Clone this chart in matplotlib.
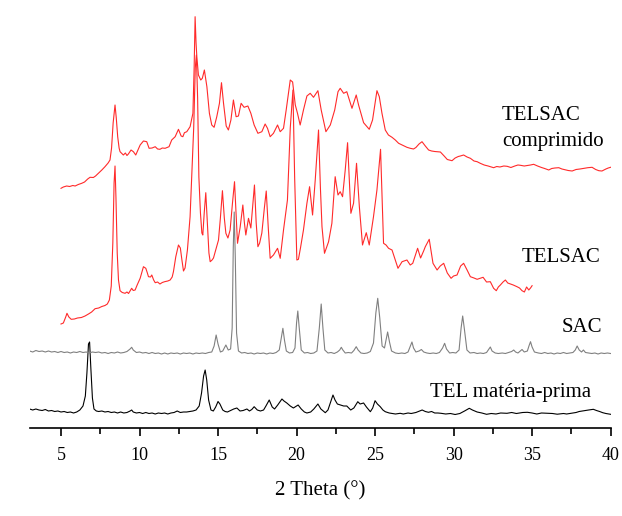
import numpy as np
import matplotlib
matplotlib.use('Agg')
import matplotlib.pyplot as plt
from matplotlib.ticker import MultipleLocator

plt.rcParams['font.family'] = ['Liberation Serif', 'DejaVu Serif']

# stacked XRD patterns, (2 theta, intensity a.u. incl. stacking offset)
tel_mp = [(3.0, 19), (3.2, 18), (3.4, 19), (3.6, 18), (3.8, 17.5), (4.0, 18.5), (4.2, 17), (4.4, 17.5),
          (4.6, 16.5), (4.8, 17), (5.0, 16), (5.2, 16.5), (5.4, 15.5), (5.6, 16), (5.8, 15), (6.0, 16),
          (6.2, 18), (6.4, 22), (6.55, 32), (6.65, 55), (6.75, 84), (6.82, 86), (6.9, 60), (7.0, 30),
          (7.1, 19), (7.25, 17), (7.4, 16.5), (7.6, 17), (7.8, 16), (8.0, 16.5), (8.2, 15.5), (8.4, 16),
          (8.6, 15), (8.8, 16), (9.0, 15), (9.2, 15.5), (9.4, 17), (9.5, 18), (9.6, 16), (9.8, 15),
          (10.0, 15.5), (10.2, 14.5), (10.4, 15.5), (10.6, 14.5), (10.8, 15), (11.0, 14), (11.2, 15),
          (11.4, 14.5), (11.6, 15), (11.8, 14), (12.0, 15), (12.2, 15.5), (12.4, 17), (12.6, 15.5),
          (12.8, 16), (13.0, 16), (13.2, 16.5), (13.4, 17), (13.6, 18), (13.8, 22), (13.95, 35),
          (14.08, 52), (14.18, 58), (14.28, 48), (14.4, 28), (14.55, 18), (14.7, 17), (14.85, 21),
          (15.0, 26.5), (15.12, 24), (15.3, 18), (15.45, 16.5), (15.6, 16), (15.8, 17.5), (16.0, 19),
          (16.2, 20), (16.4, 17), (16.6, 17.5), (16.84, 19), (17.0, 17), (17.15, 18.5), (17.3, 21.3),
          (17.5, 18), (17.7, 17), (17.9, 18), (18.05, 22), (18.26, 28), (18.45, 21), (18.6, 19),
          (18.8, 23), (19.07, 29), (19.2, 27), (19.38, 25), (19.6, 22), (19.8, 20), (20.1, 23),
          (20.3, 19), (20.5, 16), (20.66, 15), (20.9, 16), (21.1, 19), (21.36, 24), (21.55, 19),
          (21.83, 15.3), (22.0, 18), (22.15, 25), (22.32, 33), (22.45, 28), (22.6, 24), (22.8, 23),
          (23.0, 22), (23.2, 22), (23.45, 18), (23.65, 20), (23.9, 26.3), (24.05, 24), (24.27, 25),
          (24.45, 21), (24.7, 16.3), (24.85, 20), (25.0, 27.3), (25.15, 24), (25.33, 21.3), (25.5, 18),
          (25.65, 16.3), (25.9, 15), (26.1, 14.5), (26.3, 14), (26.6, 14.7), (26.8, 14), (27.1, 15),
          (27.3, 14.5), (27.6, 15.5), (27.85, 17), (28.0, 18), (28.2, 16.5), (28.4, 15.7), (28.6, 16.5),
          (28.8, 15), (29.0, 15), (29.2, 14.7), (29.5, 14), (29.8, 14.5), (30.1, 13.5), (30.4, 14.5),
          (30.7, 17), (31.0, 19.7), (31.2, 18), (31.5, 16), (31.8, 15), (32.1, 13.7), (32.4, 14.5),
          (32.7, 14), (33.0, 15), (33.4, 14.7), (33.7, 15.5), (34.0, 14.5), (34.4, 15.5), (34.7, 15.7),
          (35.0, 15), (35.3, 14), (35.6, 15), (35.96, 14.7), (36.3, 14.5), (36.6, 13.8), (37.0, 14.5),
          (37.2, 14), (37.5, 14.8), (37.8, 15.5), (38.0, 16.5), (38.3, 17.3), (38.6, 18), (38.9, 18.7),
          (39.1, 17.5), (39.3, 16.5), (39.5, 15.3), (39.7, 14.5), (40.0, 13.7)]

sac = [(3.0, 77), (3.2, 76), (3.4, 77.5), (3.6, 76.5), (3.8, 77), (4.0, 76), (4.2, 77), (4.4, 76),
       (4.6, 76.5), (4.8, 75.5), (5.0, 76.5), (5.2, 75.5), (5.4, 76), (5.6, 75), (5.8, 76), (6.0, 75.5),
       (6.2, 76.5), (6.4, 75.5), (6.6, 76), (6.8, 75), (7.0, 76), (7.2, 75.5), (7.4, 76), (7.6, 75),
       (7.8, 75.5), (8.0, 74.5), (8.2, 75.5), (8.4, 75), (8.6, 76), (8.8, 75), (9.0, 75.5), (9.2, 76.5),
       (9.4, 79), (9.5, 80.7), (9.6, 78), (9.8, 75.5), (10.0, 76), (10.2, 75), (10.4, 75.5), (10.6, 74.5),
       (10.8, 75.5), (11.0, 74.5), (11.2, 75), (11.4, 74), (11.6, 75), (11.8, 74), (12.0, 75),
       (12.2, 74.5), (12.4, 75), (12.6, 74), (12.8, 75), (13.0, 74.5), (13.2, 75), (13.4, 74),
       (13.6, 75), (13.8, 74.5), (14.0, 75), (14.2, 74.5), (14.4, 75.5), (14.6, 76), (14.75, 82),
       (14.88, 93), (15.0, 84), (15.15, 76), (15.3, 77), (15.5, 83), (15.65, 78), (15.8, 79),
       (15.9, 100), (15.97, 180), (16.03, 216), (16.1, 170), (16.18, 95), (16.3, 77), (16.5, 75),
       (16.7, 75.5), (16.9, 74.5), (17.1, 75), (17.3, 74), (17.5, 75), (17.7, 74.5), (17.9, 75),
       (18.1, 74), (18.3, 75), (18.5, 74.5), (18.7, 75.5), (18.9, 78), (19.03, 90), (19.13, 99.7),
       (19.23, 88), (19.35, 77), (19.55, 75), (19.75, 75.5), (19.9, 80), (20.0, 105), (20.08, 117),
       (20.16, 102), (20.3, 78), (20.5, 75), (20.7, 75.5), (20.9, 74.5), (21.1, 75), (21.3, 77),
       (21.45, 100), (21.57, 124), (21.68, 100), (21.8, 78), (22.0, 75), (22.2, 75.5), (22.4, 74.5),
       (22.6, 76), (22.75, 78), (22.85, 80.7), (22.95, 78), (23.1, 75), (23.3, 75.5), (23.5, 75),
       (23.65, 77.5), (23.8, 81.3), (23.92, 78), (24.1, 75), (24.3, 74.5), (24.5, 75), (24.7, 76.5),
       (24.9, 85), (25.05, 115), (25.17, 129.7), (25.3, 110), (25.45, 82), (25.6, 80), (25.8, 96),
       (25.92, 86), (26.05, 77), (26.3, 75), (26.5, 74.5), (26.7, 75), (26.9, 74.5), (27.1, 76),
       (27.25, 82), (27.35, 86), (27.45, 80), (27.6, 76), (27.8, 77), (27.95, 78.5), (28.1, 76),
       (28.3, 75), (28.5, 74.5), (28.7, 75), (28.9, 74.5), (29.1, 75.5), (29.3, 80), (29.43, 84.7),
       (29.55, 79), (29.75, 75), (29.95, 75.5), (30.15, 75), (30.35, 78), (30.48, 100), (30.58, 112),
       (30.68, 100), (30.85, 78), (31.05, 75), (31.3, 75.5), (31.5, 74.5), (31.7, 75), (31.9, 74.5),
       (32.1, 75.5), (32.25, 79), (32.34, 81), (32.45, 77), (32.65, 75), (32.85, 74.5), (33.1, 75),
       (33.3, 74.5), (33.5, 75.5), (33.7, 76.5), (33.83, 78), (33.95, 76), (34.1, 75), (34.25, 77),
       (34.36, 78.5), (34.5, 76), (34.7, 77), (34.8, 82), (34.9, 86.3), (35.0, 81), (35.15, 76),
       (35.4, 75), (35.6, 74.5), (35.8, 75.5), (36.0, 74.5), (36.2, 75), (36.4, 74), (36.6, 75),
       (36.8, 74.5), (37.0, 75.5), (37.2, 74.5), (37.4, 75), (37.6, 75.5), (37.75, 78), (37.87, 82),
       (38.0, 78), (38.15, 76), (38.27, 78), (38.4, 75.5), (38.6, 75), (38.8, 74.5), (39.0, 75),
       (39.2, 74), (39.4, 75), (39.6, 74.5), (39.8, 75), (40.0, 74.5)]

telsac = [(5.0, 104), (5.15, 105), (5.3, 111), (5.38, 114.7), (5.5, 111), (5.65, 108.7), (5.85, 109),
          (6.05, 110), (6.3, 110.5), (6.53, 112), (6.75, 114), (6.95, 116), (7.17, 119.3), (7.4, 120),
          (7.6, 121.5), (7.8, 122.5), (7.95, 124), (8.08, 128), (8.2, 142), (8.3, 185), (8.38, 245),
          (8.44, 262), (8.5, 230), (8.58, 175), (8.66, 148), (8.76, 137.3), (8.9, 135.5), (9.08, 134.7),
          (9.2, 136), (9.3, 134.5), (9.4, 137), (9.5, 139.7), (9.6, 137.5), (9.72, 138), (9.85, 143),
          (10.04, 149.7), (10.25, 161.3), (10.4, 159.7), (10.5, 155), (10.57, 151.3), (10.7, 151),
          (10.78, 153), (10.9, 148), (11.0, 145.3), (11.15, 146), (11.3, 144), (11.45, 145.5),
          (11.6, 146.3), (11.8, 147), (11.95, 148), (12.08, 151), (12.16, 156.3), (12.31, 171.3),
          (12.48, 183), (12.6, 180), (12.7, 168), (12.8, 157), (12.9, 160), (13.05, 178), (13.22, 211.3),
          (13.35, 260), (13.45, 300), (13.55, 360), (13.62, 373), (13.7, 330), (13.78, 251), (13.88, 215),
          (13.97, 195), (14.03, 193), (14.12, 215), (14.22, 235.3), (14.32, 205), (14.42, 175),
          (14.5, 166.3), (14.62, 168), (14.71, 170), (14.85, 178), (15.03, 188), (15.15, 210),
          (15.28, 237.3), (15.4, 210), (15.5, 194.7), (15.63, 190), (15.77, 198), (15.92, 225),
          (16.05, 246.3), (16.15, 215), (16.24, 184.7), (16.41, 201), (16.58, 223), (16.68, 205),
          (16.77, 193), (16.94, 209.7), (17.09, 200), (17.2, 220), (17.32, 243), (17.43, 205),
          (17.54, 181.3), (17.65, 185), (17.79, 195), (17.95, 220), (18.07, 237), (18.2, 200),
          (18.32, 169.7), (18.53, 173), (18.79, 179.7), (18.96, 169.7), (19.17, 198), (19.42, 228),
          (19.6, 300), (19.77, 338), (19.88, 250), (20.02, 168), (20.12, 168.7), (20.25, 180),
          (20.44, 198), (20.66, 224.7), (20.83, 241.3), (21.02, 213), (21.19, 248), (21.4, 298),
          (21.52, 240), (21.62, 201.3), (21.78, 174.7), (22.04, 186.3), (22.25, 204.7), (22.46, 251.3),
          (22.64, 233), (22.78, 236.3), (22.93, 231.3), (23.1, 258), (23.25, 285.3), (23.46, 214.7),
          (23.63, 224.7), (23.82, 264.7), (24.0, 221.3), (24.2, 183), (24.44, 195.3), (24.63, 183),
          (24.9, 211.3), (25.12, 238), (25.35, 278.7), (25.54, 184.7), (25.7, 183), (25.86, 179.7),
          (26.08, 178), (26.29, 168), (26.46, 159.7), (26.72, 166.3), (27.03, 168), (27.24, 163),
          (27.4, 164.7), (27.71, 179.7), (27.9, 170), (28.1, 177.3), (28.2, 181.3), (28.45, 188.7),
          (28.69, 164.7), (28.95, 158), (29.15, 162), (29.37, 164.7), (29.6, 155), (29.84, 149.7),
          (30.0, 152), (30.22, 153), (30.45, 162), (30.64, 164.7), (30.86, 158), (31.07, 151.3),
          (31.3, 150), (31.5, 148.7), (31.7, 149.7), (31.88, 150.7), (32.1, 146), (32.34, 146.3),
          (32.55, 139.7), (32.72, 137.3), (32.85, 141), (32.98, 143), (33.15, 146), (33.3, 148),
          (33.45, 145), (33.62, 144), (33.8, 143), (34.04, 141.3), (34.2, 140), (34.36, 137.3),
          (34.51, 136), (34.65, 141), (34.79, 138), (34.9, 140), (35.0, 142.3)]

telsac_comp = [(5.0, 239.7), (5.15, 241), (5.36, 242), (5.55, 241.5), (5.75, 242.5), (5.9, 242),
               (6.1, 243.5), (6.32, 244.7), (6.5, 246), (6.7, 249), (6.85, 250.7), (7.06, 250.5),
               (7.2, 252), (7.38, 254.7), (7.6, 258), (7.8, 261.3), (8.0, 265), (8.12, 268), (8.22, 280),
               (8.32, 305), (8.44, 323), (8.52, 310), (8.61, 291.3), (8.7, 280), (8.76, 276.3),
               (8.97, 273), (9.1, 275), (9.2, 272.5), (9.29, 274), (9.46, 278), (9.61, 276.3),
               (9.76, 273), (9.9, 278), (10.04, 283), (10.25, 287), (10.46, 286.3), (10.61, 279.7),
               (10.8, 280), (11.0, 281.3), (11.15, 279), (11.3, 278.7), (11.45, 280), (11.63, 279.7),
               (11.88, 281.3), (12.05, 288), (12.27, 291.3), (12.48, 298.7), (12.65, 292), (12.76, 291.3),
               (12.86, 295.3), (13.01, 296.3), (13.22, 301.3), (13.4, 314.7), (13.48, 361), (13.54, 411.3),
               (13.6, 385), (13.65, 371.3), (13.75, 353), (13.9, 348), (14.0, 349.7), (14.13, 358),
               (14.29, 341.3), (14.45, 314.7), (14.6, 303), (14.75, 300.7), (14.92, 311.3), (15.09, 324.7),
               (15.22, 345.3), (15.35, 324.7), (15.52, 302), (15.66, 298), (15.82, 308), (15.98, 328),
               (16.15, 311.3), (16.3, 312), (16.47, 324.7), (16.66, 320.7), (16.9, 322), (17.09, 314.7),
               (17.3, 303), (17.54, 294.7), (17.79, 296.3), (18.0, 304), (18.15, 299.7), (18.32, 291.3),
               (18.53, 294.7), (18.79, 303), (18.96, 296.3), (19.17, 299.7), (19.34, 318), (19.6, 348),
               (19.75, 346), (19.92, 323), (20.06, 314.7), (20.23, 303), (20.44, 318), (20.66, 332),
               (20.87, 334.7), (21.08, 330.7), (21.36, 337.3), (21.57, 318), (21.87, 296.3), (22.15, 303),
               (22.43, 318), (22.64, 336.3), (22.78, 339.7), (23.0, 334.7), (23.2, 336.3), (23.53, 319.7),
               (23.8, 333), (23.95, 323), (24.27, 305.3), (24.63, 298.7), (24.84, 308), (25.12, 337.3),
               (25.27, 331.3), (25.44, 314.7), (25.65, 298), (25.85, 293), (26.08, 290.7), (26.29, 288),
               (26.5, 284.7), (26.72, 283), (27.03, 280.7), (27.24, 279.7), (27.45, 279), (27.6, 280.5),
               (27.8, 284), (27.99, 286.3), (28.2, 282), (28.41, 278), (28.6, 277), (28.8, 276.5),
               (28.95, 276.3), (29.16, 276), (29.4, 272), (29.6, 268.5), (29.9, 267.3), (30.1, 270),
               (30.3, 271.5), (30.43, 272), (30.64, 273), (30.86, 271), (31.07, 269.7), (31.3, 267),
               (31.5, 266.3), (31.7, 264.7), (31.95, 263), (32.2, 262), (32.4, 261), (32.55, 260.3),
               (32.75, 261.5), (32.95, 261), (33.2, 262), (33.41, 261.7), (33.65, 260.5), (33.9, 262),
               (34.1, 263), (34.26, 262.7), (34.5, 262), (34.7, 262.5), (34.9, 263), (35.1, 263.7),
               (35.35, 262), (35.6, 260.5), (35.8, 259.5), (36.06, 258), (36.25, 259.5), (36.45, 260),
               (36.7, 260.3), (36.9, 259), (37.1, 258.3), (37.3, 257.5), (37.55, 257), (37.8, 258.5),
               (38.05, 259), (38.3, 259.7), (38.55, 260.3), (38.82, 260.7), (39.05, 258.5), (39.25, 257.3),
               (39.45, 257), (39.7, 259), (39.85, 260), (40.0, 260.7)]

fig = plt.figure(figsize=(6.22, 5.16), dpi=100)
ax = fig.add_axes([29.6 / 622, 88 / 516, 581 / 622, 428 / 516])

for pattern, color in [(tel_mp, 'black'), (sac, '#808080'), (telsac, '#ff2a2a'), (telsac_comp, '#ff2a2a')]:
    arr = np.array(pattern)
    ax.plot(arr[:, 0], arr[:, 1], color=color, lw=0.8)

ax.text(33.09, 308, 'TELSAC', fontsize=15, va='baseline')
ax.text(33.09, 282, 'comprimido', fontsize=15, va='baseline')
ax.text(34.36, 166.3, 'TELSAC', fontsize=15, va='baseline')
ax.text(36.85, 96.3, 'SAC', fontsize=15, va='baseline')
ax.text(28.47, 31.3, 'TEL matéria-prima', fontsize=15, va='baseline')

ax.set_xlim(3, 40)
ax.set_ylim(0, 428)
for s in ['top', 'left', 'right']:
    ax.spines[s].set_visible(False)
ax.spines['bottom'].set_linewidth(1.2)
ax.set_yticks([])
ax.xaxis.set_major_locator(MultipleLocator(5))
ax.xaxis.set_minor_locator(MultipleLocator(2.5))
ax.tick_params(axis='x', which='major', direction='out', length=6, width=1.2, labelsize=13, pad=8)
ax.tick_params(axis='x', which='minor', direction='out', length=4, width=1.2)
ax.set_xlabel('2 Theta (°)', fontsize=15, labelpad=12)

fig.savefig('out.png', dpi=100)
